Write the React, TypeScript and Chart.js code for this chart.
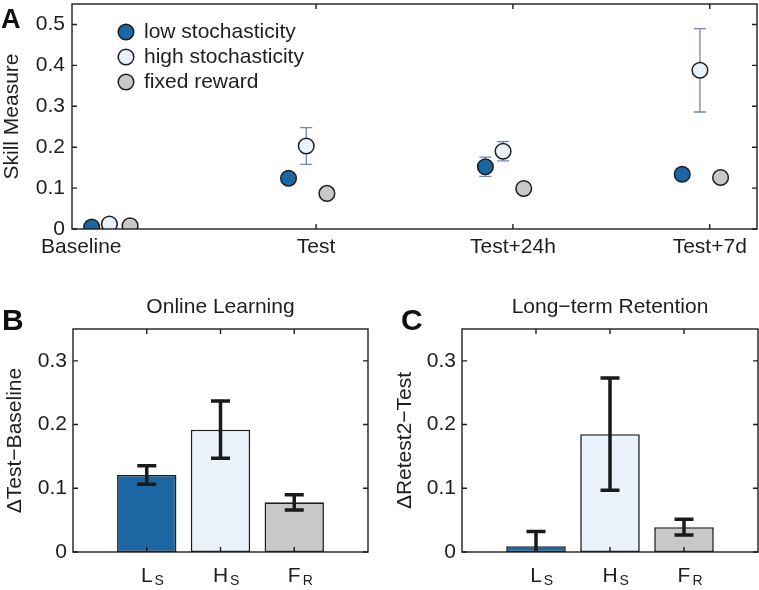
import React, { useEffect, useRef } from 'react';
import { Chart, registerables } from 'chart.js';

Chart.register(...registerables);

const FONT = '"Liberation Sans", Arial, Helvetica, sans-serif';
const INK = '#1e1e1e';

// ---- Panel A data ----
const timepoints = ['Baseline', 'Test', 'Test+24h', 'Test+7d'];
const seriesNames = ['low stochasticity', 'high stochasticity', 'fixed reward'];
const lowValues = [0.005, 0.124, 0.152, 0.134];
const lowErrors = [0, 0, 0.0235, 0];
const highValues = [0.012, 0.203, 0.19, 0.388];
const highErrors = [0, 0.045, 0.0235, 0.102];
const fixedValues = [0.008, 0.087, 0.099, 0.126];
const fixedErrors = [0, 0, 0, 0];
const groupOffsets = [-0.14, -0.05, 0.055];
const skillTicks = [0, 0.1, 0.2, 0.3, 0.4, 0.5];

// ---- Panels B & C data ----
const groupCodes = ['L', 'H', 'F'];
const groupSubs = ['S', 'S', 'R'];
const onlineValues = [0.121, 0.192, 0.078];
const onlineErrors = [0.0145, 0.045, 0.012];
const retentionValues = [0.009, 0.185, 0.039];
const retentionErrors = [0.023, 0.088, 0.0125];
const deltaTicks = [0, 0.1, 0.2, 0.3];

const seriesColors = ['#1c66a3', '#eaf3fc', '#c8c8c8'];
const errorColorA = '#7083c0';

const fmt = (v: number) => (v === 0 ? '0' : Number(v).toFixed(1));

const noScalePadding = (s: any) => {
  s.paddingTop = 0;
  s.paddingBottom = 0;
  s.paddingLeft = 0;
  s.paddingRight = 0;
};

function framePlugin(xTicks: number[], yTicks: number[]) {
  return {
    id: 'frame',
    afterDraw(chart: any) {
      const { ctx, chartArea: a, scales } = chart;
      ctx.save();
      ctx.strokeStyle = INK;
      ctx.lineWidth = 1.4;
      ctx.strokeRect(a.left, a.top, a.right - a.left, a.bottom - a.top);
      ctx.beginPath();
      for (const v of yTicks) {
        const y = scales.y.getPixelForValue(v);
        ctx.moveTo(a.left, y);
        ctx.lineTo(a.left + 5, y);
        ctx.moveTo(a.right, y);
        ctx.lineTo(a.right - 5, y);
      }
      for (const v of xTicks) {
        const x = scales.x.getPixelForValue(v);
        ctx.moveTo(x, a.bottom);
        ctx.lineTo(x, a.bottom - 5);
        ctx.moveTo(x, a.top);
        ctx.lineTo(x, a.top + 5);
      }
      ctx.stroke();
      ctx.restore();
    },
  };
}

function letterPlugin(letter: string, x: number, y: number, size: number) {
  return {
    id: 'letter',
    afterDraw(chart: any) {
      const ctx = chart.ctx;
      ctx.save();
      ctx.fillStyle = '#111';
      ctx.font = `bold ${size}px ${FONT}`;
      ctx.textAlign = 'left';
      ctx.textBaseline = 'alphabetic';
      ctx.fillText(letter, x, y);
      ctx.restore();
    },
  };
}

function makeSkillChart(canvas: HTMLCanvasElement) {
  const values = [lowValues, highValues, fixedValues];
  const errors = [lowErrors, highErrors, fixedErrors];
  const radius = 7.8;
  return new Chart(canvas, {
    type: 'scatter',
    data: {
      datasets: seriesNames.map((name, s) => ({
        label: name,
        data: values[s].map((v, i) => ({ x: i + groupOffsets[s], y: v })),
        backgroundColor: seriesColors[s],
        borderColor: INK,
        borderWidth: 1.5,
        pointRadius: radius,
        pointHoverRadius: radius,
      })),
    },
    options: {
      animation: false,
      responsive: false,
      maintainAspectRatio: false,
      events: [],
      layout: { autoPadding: false, padding: { top: 4, right: 2, left: 0, bottom: 0 } },
      plugins: { legend: { display: false }, tooltip: { enabled: false } },
      scales: {
        x: {
          type: 'linear',
          min: -0.24,
          max: 3.24,
          offset: false,
          ticks: { display: false },
          grid: { display: false, drawTicks: false },
          border: { display: false },
          afterFit: (s: any) => { s.height = 41; noScalePadding(s); },
        },
        y: {
          type: 'linear',
          min: 0,
          max: 0.55,
          afterBuildTicks: (s: any) => { s.ticks = skillTicks.map((v) => ({ value: v })); },
          ticks: { callback: (v: any) => fmt(v), font: { family: FONT, size: 21 }, color: INK, padding: 7 },
          grid: { display: false, drawTicks: false },
          border: { display: false },
          title: { display: true, text: 'Skill Measure', font: { family: FONT, size: 21 }, color: INK, padding: { top: 0, bottom: 0 } },
          afterFit: (s: any) => { s.width = 72; noScalePadding(s); },
        },
      },
    } as any,
    plugins: [
      {
        id: 'errorBarsA',
        beforeDatasetsDraw(chart: any) {
          const { ctx, scales } = chart;
          ctx.save();
          ctx.strokeStyle = errorColorA;
          ctx.lineWidth = 1.3;
          ctx.beginPath();
          values.forEach((arr, s) => {
            arr.forEach((v, i) => {
              const e = errors[s][i];
              if (!e) return;
              const x = scales.x.getPixelForValue(i + groupOffsets[s]);
              const yt = scales.y.getPixelForValue(v + e);
              const yb = scales.y.getPixelForValue(v - e);
              ctx.moveTo(x, yt); ctx.lineTo(x, yb);
              ctx.moveTo(x - 6, yt); ctx.lineTo(x + 6, yt);
              ctx.moveTo(x - 6, yb); ctx.lineTo(x + 6, yb);
            });
          });
          ctx.stroke();
          ctx.restore();
        },
      },
      framePlugin([1, 2, 3], skillTicks),
      {
        id: 'xLabelsA',
        afterDraw(chart: any) {
          const { ctx, scales, chartArea } = chart;
          ctx.save();
          ctx.fillStyle = INK;
          ctx.font = `21px ${FONT}`;
          ctx.textAlign = 'center';
          ctx.textBaseline = 'alphabetic';
          timepoints.forEach((t, i) => {
            const shift = i === 0 ? -38 : 0;
            ctx.fillText(t, scales.x.getPixelForValue(i) + shift, chartArea.bottom + 24);
          });
          ctx.restore();
        },
      },
      {
        id: 'legendA',
        afterDraw(chart: any) {
          const { ctx } = chart;
          ctx.save();
          ctx.font = `21px ${FONT}`;
          ctx.textAlign = 'left';
          ctx.textBaseline = 'alphabetic';
          seriesNames.forEach((name, s) => {
            const cy = 32 + s * 25;
            ctx.beginPath();
            ctx.arc(126, cy, radius, 0, Math.PI * 2);
            ctx.fillStyle = seriesColors[s];
            ctx.fill();
            ctx.lineWidth = 1.5;
            ctx.strokeStyle = INK;
            ctx.stroke();
            ctx.fillStyle = INK;
            ctx.fillText(name, 144, cy + 6);
          });
          ctx.restore();
        },
      },
      letterPlugin('A', 1, 28, 27),
    ],
  });
}

function makeDeltaChart(
  canvas: HTMLCanvasElement,
  values: number[],
  errors: number[],
  title: string,
  yTitle: string,
  opts: { axisWidth: number; right: number; titlePad: number; letter: string; letterX: number },
) {
  return new Chart(canvas, {
    type: 'bar',
    data: {
      datasets: [
        {
          label: title,
          data: values.map((v, i) => ({ x: i + 1, y: v })),
          backgroundColor: seriesColors,
          borderColor: INK,
          borderWidth: 1.6,
          borderSkipped: false,
          barPercentage: 0.805,
          categoryPercentage: 1,
        },
      ],
    },
    options: {
      animation: false,
      responsive: false,
      maintainAspectRatio: false,
      events: [],
      layout: { autoPadding: false, padding: { top: 59, right: opts.right, left: 0, bottom: 0 } },
      plugins: { legend: { display: false }, tooltip: { enabled: false } },
      scales: {
        x: {
          type: 'linear',
          min: 0,
          max: 4,
          offset: false,
          ticks: { display: false },
          grid: { display: false, drawTicks: false, offset: false },
          border: { display: false },
          afterFit: (s: any) => { s.height = 38; noScalePadding(s); },
        },
        y: {
          type: 'linear',
          min: 0,
          max: 0.35,
          afterBuildTicks: (s: any) => { s.ticks = deltaTicks.map((v) => ({ value: v })); },
          ticks: { callback: (v: any) => fmt(v), font: { family: FONT, size: 21 }, color: INK, padding: 6 },
          grid: { display: false, drawTicks: false },
          border: { display: false },
          title: { display: true, text: yTitle, font: { family: FONT, size: 21 }, color: INK, padding: { top: opts.titlePad, bottom: 0 } },
          afterFit: (s: any) => { s.width = opts.axisWidth; noScalePadding(s); },
        },
      },
    } as any,
    plugins: [
      {
        id: 'errorBars',
        afterDatasetsDraw(chart: any) {
          const { ctx, scales, chartArea: a } = chart;
          ctx.save();
          ctx.beginPath();
          ctx.rect(a.left, a.top, a.right - a.left, a.bottom - a.top);
          ctx.clip();
          ctx.strokeStyle = '#1a1a1a';
          ctx.lineWidth = 3.5;
          ctx.beginPath();
          values.forEach((v, i) => {
            const e = errors[i];
            const x = scales.x.getPixelForValue(i + 1);
            const yt = scales.y.getPixelForValue(v + e);
            const yb = scales.y.getPixelForValue(v - e);
            ctx.moveTo(x, yt); ctx.lineTo(x, yb);
            ctx.moveTo(x - 9.5, yt); ctx.lineTo(x + 9.5, yt);
            ctx.moveTo(x - 9.5, yb); ctx.lineTo(x + 9.5, yb);
          });
          ctx.stroke();
          ctx.restore();
        },
      },
      framePlugin([1, 2, 3], deltaTicks),
      {
        id: 'labels',
        afterDraw(chart: any) {
          const { ctx, scales, chartArea: a } = chart;
          ctx.save();
          ctx.fillStyle = INK;
          ctx.textBaseline = 'alphabetic';
          // title
          ctx.font = `21px ${FONT}`;
          ctx.textAlign = 'center';
          ctx.fillText(title, (a.left + a.right) / 2, a.top - 16);
          // category labels with subscripts
          groupCodes.forEach((code, i) => {
            const x = scales.x.getPixelForValue(i + 1);
            ctx.font = `21px ${FONT}`;
            const w = ctx.measureText(code).width;
            ctx.textAlign = 'left';
            ctx.fillText(code, x - w / 2, a.bottom + 30);
            ctx.font = `14px ${FONT}`;
            ctx.fillText(groupSubs[i], x + w / 2 + 2, a.bottom + 33);
          });
          ctx.restore();
        },
      },
      letterPlugin(opts.letter, opts.letterX, 60, 30),
    ],
  });
}

export default function App() {
  const refA = useRef<HTMLCanvasElement>(null);
  const refB = useRef<HTMLCanvasElement>(null);
  const refC = useRef<HTMLCanvasElement>(null);

  useEffect(() => {
    Chart.defaults.font.family = FONT;
    const a = makeSkillChart(refA.current!);
    const b = makeDeltaChart(refB.current!, onlineValues, onlineErrors, 'Online Learning', '\u0394Test\u2212Baseline', {
      axisWidth: 73, right: 12, titlePad: 3, letter: 'B', letterX: 2,
    });
    const c = makeDeltaChart(refC.current!, retentionValues, retentionErrors, 'Long\u2212term Retention', '\u0394Retest2\u2212Test', {
      axisWidth: 82, right: 1, titlePad: 13, letter: 'C', letterX: 21,
    });
    return () => {
      a.destroy();
      b.destroy();
      c.destroy();
    };
  }, []);

  return (
    <div style={{ position: 'absolute', left: 0, top: 0, width: 759, height: 590, background: '#fff' }}>
      <canvas ref={refA} width={759} height={270} style={{ position: 'absolute', left: 0, top: 0, width: 759, height: 270 }} />
      <canvas ref={refB} width={380} height={320} style={{ position: 'absolute', left: 0, top: 270, width: 380, height: 320 }} />
      <canvas ref={refC} width={379} height={320} style={{ position: 'absolute', left: 380, top: 270, width: 379, height: 320 }} />
    </div>
  );
}
